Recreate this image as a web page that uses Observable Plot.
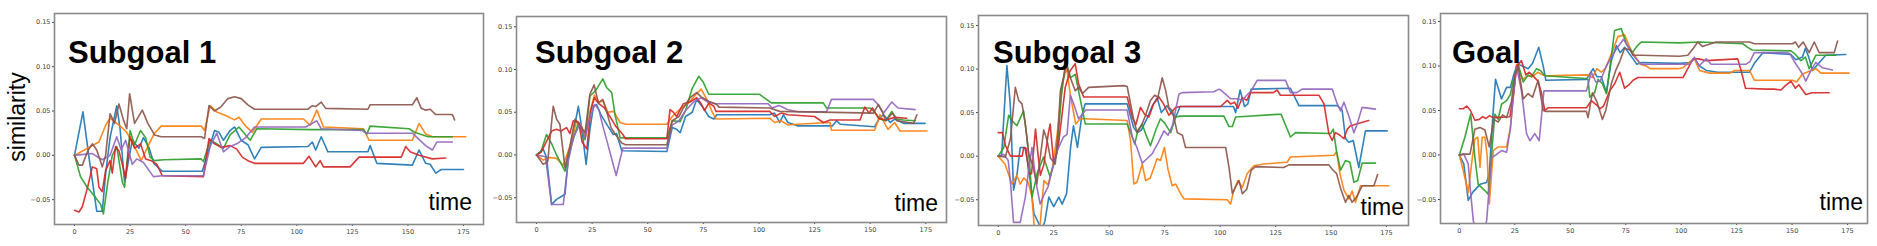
<!DOCTYPE html>
<html><head><meta charset="utf-8">
<script src="https://cdn.jsdelivr.net/npm/d3@7"></script>
<script src="https://cdn.jsdelivr.net/npm/@observablehq/plot@0.6"></script>
<style>
body{margin:0;background:#fff;}
#wrap{position:relative;width:1877px;height:246px;overflow:hidden;background:#fff;}
#wrap svg.plotsvg{position:absolute;}
#overlay{position:absolute;left:0;top:0;pointer-events:none;}
</style></head><body><div id="wrap"></div>
<script>
// ---------- data ----------
const panelTitles = ["Subgoal 1", "Subgoal 2", "Subgoal 3", "Goal"];
const seriesNames = ["blue", "orange", "green", "red", "purple", "brown"];
const xTicks = [0, 25, 50, 75, 100, 125, 150, 175];
const yTicks = [-0.05, 0, 0.05, 0.10, 0.15];
const yLabel = "similarity";
const xLabel = "time";

const p1_blue = [[0,0],[3.8,0.049],[6.5,-0.002],[10,-0.063],[12.5,-0.063],[14,-0.021],[16,0.02],[19,0.056],[20.5,0.03],[22.5,-0.03],[26,0.017],[29,0.008],[31,0.02],[33.5,0.009],[35.7,-0.009],[39.5,-0.018],[57.5,-0.018],[63,0.028],[65,0.026],[67,0.017],[70,0.028],[72,0.032],[75,0.017],[78,0.012],[81,-0.004],[84,0.009],[105,0.010],[107,0.015],[108.5,0.006],[111,0.021],[114,0.004],[132,0.004],[133,0.011],[136,-0.009],[152,-0.011],[155,0.006],[158,-0.009],[160,-0.01],[162.5,-0.02],[165,-0.016],[175,-0.016]];
const p1_orange = [[0,0],[3,0.004],[6.5,0.009],[9.5,0.013],[11,0.015],[14,0.034],[16,0.042],[19,0.036],[21,0.032],[23.5,0.026],[27,0.01],[30,-0.006],[33,0.01],[36,0.025],[39,0.033],[57,0.033],[58.5,0.028],[61,0.056],[64,0.049],[68,0.045],[72,0.04],[74,0.043],[77,0.033],[80,0.026],[84,0.041],[103,0.041],[106,0.034],[109,0.051],[112,0.032],[130,0.030],[132.5,0.017],[152,0.017],[155,0.036],[158,0.024],[161,0.021],[176,0.021]];
const p1_green = [[0,0],[2.7,-0.024],[5.7,-0.036],[8.7,-0.045],[11.7,-0.055],[13,-0.066],[15,-0.03],[17,0.0],[19,0.01],[21.5,-0.03],[22.5,-0.036],[25,0.028],[27,0.012],[29.7,0.028],[32,0.02],[34,-0.002],[36,-0.006],[40,-0.005],[57,-0.004],[58,-0.007],[61,0.017],[64,0.013],[67,0.008],[70,0.023],[74,0.032],[77,0.023],[79,0.017],[82,0.030],[107,0.029],[130,0.029],[131.5,0.024],[133,0.033],[150.5,0.030],[153,0.026],[159,0.021],[170,0.021]];
const p1_red = [[0,-0.062],[2,-0.064],[3.5,-0.058],[6,-0.035],[8,-0.013],[10,-0.015],[11,-0.036],[12.5,-0.041],[14,-0.017],[16,-0.006],[17,-0.02],[18.5,0.01],[20,0.005],[21.5,-0.01],[23,-0.026],[25,0.021],[27,0.008],[29.7,0.013],[32,-0.004],[34.5,-0.006],[37,-0.01],[39.5,-0.023],[58,-0.024],[60.5,0.019],[63,0.013],[66,0.009],[70,0.011],[73,0.007],[75.5,-0.002],[78,-0.006],[81,-0.009],[103,-0.009],[105.5,-0.001],[108.5,-0.013],[110.5,-0.006],[112,-0.013],[124,-0.013],[128,-0.002],[147,-0.002],[149,0.010],[151,0.004],[155,0.0],[161,-0.004],[167,-0.003]];
const p1_purple = [[0,0],[8,0.002],[12.5,-0.005],[16,0.0],[19,0.021],[21,0.006],[23,0.017],[26,-0.010],[28,-0.004],[31,-0.008],[35.5,-0.024],[39.5,-0.023],[58,-0.023],[61,0.010],[64,0.025],[67,0.004],[70,0.01],[73,0.013],[77,0.02],[81,0.032],[104,0.032],[109,0.039],[111,0.030],[129.5,0.028],[131,0.025],[152,0.025],[155,0.018],[158,0.011],[161,0.006],[163,0.015],[170,0.015]];
const p1_brown = [[0,0],[2,-0.011],[3.5,-0.011],[6,0.005],[8,0.013],[10,0.006],[12.5,-0.013],[14,0.0],[16,0.047],[18,0.036],[20,0.058],[22,0.04],[23.5,0.03],[24.8,0.0695],[27,0.036],[30.5,0.051],[33,0.036],[36,0.023],[39,0.021],[57,0.021],[58.5,0.019],[60.5,0.056],[63,0.05],[66,0.055],[69,0.064],[72,0.066],[75,0.064],[78,0.057],[81,0.052],[105,0.052],[107,0.056],[108.5,0.055],[111,0.060],[113,0.053],[132,0.052],[133,0.057],[152,0.057],[154,0.065],[156,0.053],[158,0.051],[160,0.052],[162.5,0.046],[170,0.046],[171,0.040]];

const p2_blue = [[0,0],[3,0.007],[4.5,-0.003],[6.8,-0.058],[9,-0.052],[12.8,-0.046],[14.3,-0.003],[16.5,0.025],[18.8,0.057],[20.3,0.032],[22.3,-0.011],[24,0.03],[25.6,0.057],[27,0.059],[29,0.047],[32,0.034],[34.5,0.024],[36,0.025],[38.3,0.005],[58.6,0.004],[61,0.032],[63,0.03],[64.6,0.026],[67,0.045],[70,0.05],[72,0.065],[75,0.055],[77.4,0.045],[79.7,0.042],[81,0.047],[104.8,0.047],[107,0.049],[109.3,0.038],[111,0.047],[113,0.038],[117.6,0.034],[133,0.034],[134.9,0.040],[136.5,0.036],[152,0.033],[154.4,0.044],[156,0.047],[159,0.038],[161,0.042],[165,0.037],[174.7,0.037]];
const p2_orange = [[0,0],[3,-0.006],[6,-0.003],[9,-0.004],[12,-0.012],[15,0.01],[18,0.04],[20,0.035],[22,0.02],[24,0.05],[26,0.07],[28,0.062],[30,0.063],[32,0.05],[34.6,0.051],[37.6,0.038],[40,0.036],[58.6,0.036],[61,0.045],[65,0.055],[68,0.06],[71.7,0.071],[74,0.077],[77,0.063],[79,0.05],[80.7,0.042],[104.8,0.043],[107,0.038],[110,0.040],[113,0.035],[117,0.036],[131.9,0.038],[132.6,0.029],[152,0.029],[154.4,0.047],[156.5,0.037],[158,0.030],[161,0.038],[163.4,0.028],[175.5,0.028]];
const p2_green = [[0,0],[2,0.004],[4.5,0.024],[7,0.012],[9,0.0],[12.8,-0.019],[15.8,0.012],[18.8,0.038],[21.8,0.018],[24,0.069],[26.5,0.075],[29.8,0.089],[31.5,0.079],[33.8,0.073],[35.3,0.047],[37.6,0.020],[58.6,0.020],[61,0.04],[64.6,0.039],[67,0.052],[70,0.078],[72.9,0.092],[75,0.085],[77.4,0.071],[81.2,0.071],[100.3,0.071],[105.5,0.061],[128.9,0.061],[130.4,0.055],[150,0.055],[152,0.050],[154.4,0.042],[157,0.040],[159.7,0.051],[162,0.042],[165,0.041],[170.2,0.040]];
const p2_red = [[0,0],[2,0.003],[4.5,0.016],[6.8,0.028],[9,0.030],[11,0.028],[13.5,0.032],[15,0.025],[16.5,0.040],[19,0.038],[20.5,0.015],[22.6,0.007],[24.4,0.052],[26,0.067],[28,0.06],[30.5,0.055],[33,0.045],[35.5,0.034],[38.8,0.024],[40,0.019],[58.6,0.019],[60,0.053],[61.5,0.05],[63,0.045],[66,0.06],[69,0.062],[72,0.067],[74,0.06],[75.5,0.052],[77.5,0.061],[79.7,0.057],[80.7,0.051],[104.8,0.051],[107,0.045],[110,0.049],[113,0.047],[125,0.045],[128.9,0.038],[132,0.041],[145.4,0.041],[147.6,0.056],[149.5,0.049],[151,0.055],[153.7,0.043],[157,0.041],[161,0.044],[166.4,0.043]];
const p2_purple = [[0,0],[4,-0.002],[6.8,-0.058],[12,-0.058],[14.3,-0.007],[16.5,0.02],[19.5,0.036],[21.8,0.02],[24,0.045],[26.3,0.059],[28,0.053],[30,0.032],[32,0.013],[35.8,-0.024],[38.8,0.008],[58.6,0.008],[61,0.035],[64,0.04],[67,0.052],[71,0.063],[74,0.067],[77,0.062],[80.7,0.060],[104,0.060],[106,0.055],[109,0.058],[113,0.053],[117.6,0.0505],[130.4,0.0505],[132.6,0.065],[151.4,0.065],[153.5,0.059],[156,0.049],[159.7,0.062],[162.5,0.055],[170.2,0.053]];
const p2_brown = [[0,0],[3,-0.011],[5,-0.008],[7.5,0.057],[9,0.042],[10.5,0.036],[12.8,-0.015],[15,0.01],[17.3,0.042],[19.5,0.035],[21.8,0.026],[24,0.071],[25.9,0.082],[27.8,0.061],[29.8,0.065],[31.5,0.051],[33.5,0.032],[35.5,0.024],[38.3,0.014],[40,0.012],[58.6,0.012],[61,0.04],[64,0.045],[66,0.055],[69,0.067],[72,0.073],[74,0.068],[77.4,0.063],[81,0.059],[82,0.056],[104.8,0.055],[109.3,0.051],[151.4,0.049],[153.7,0.059],[155.5,0.050],[157,0.040],[160,0.049],[162,0.040],[169.5,0.037],[171,0.047]];

const p3_blue = [[0,0],[1.5,0.0],[3.9,0.104],[5.4,0.06],[6.9,-0.039],[8.5,-0.02],[9.9,0.010],[12,0.010],[13.7,-0.013],[16.1,-0.066],[18.2,-0.077],[19.5,-0.085],[21,-0.075],[22.8,-0.047],[25,-0.058],[27.3,-0.047],[28.8,-0.055],[30.8,-0.043],[32.6,0.010],[33.9,0.035],[35.7,0.010],[37.7,0.047],[39.2,0.060],[58.1,0.060],[61,0.033],[62.6,0.027],[64.5,0.030],[67,0.043],[69.5,0.058],[71.6,0.067],[73.5,0.05],[76,0.058],[78.5,0.048],[80,0.045],[82,0.057],[106,0.057],[107,0.050],[109,0.076],[111,0.057],[112.5,0.060],[114,0.077],[131.7,0.078],[135.5,0.058],[152.8,0.058],[155,0.053],[156.5,0.020],[158,0.016],[160,0.018],[162.5,-0.013],[165.5,0.029],[175.3,0.029]];
const p3_orange = [[0,0],[3,-0.009],[6.2,-0.032],[8.4,-0.022],[9.9,-0.032],[11.5,-0.025],[13.5,-0.03],[15.2,-0.047],[16.5,-0.09],[18.5,-0.09],[19.5,-0.06],[20.6,-0.028],[22.5,-0.033],[24.5,-0.012],[26.6,0.026],[28.8,0.083],[30.8,0.102],[32.5,0.07],[34.9,0.037],[37,0.043],[39,0.043],[58.1,0.041],[59.6,0.018],[61.1,-0.032],[62.5,-0.03],[64.9,-0.009],[66.4,-0.028],[68.5,-0.025],[71.6,-0.003],[73.1,-0.005],[74.9,0.010],[76.5,-0.015],[78.4,-0.034],[80,-0.032],[82.2,-0.043],[83.7,-0.049],[103.2,-0.050],[104.7,-0.055],[106,-0.041],[108,-0.028],[110,-0.036],[112.2,-0.020],[115.2,-0.011],[119.7,-0.009],[130.2,-0.007],[131.7,-0.001],[151.3,0.001],[152.5,0.005],[154,-0.020],[155.8,-0.039],[158,-0.049],[159.5,-0.040],[161,-0.053],[163.3,-0.034],[176,-0.034]];
const p3_green = [[0,0],[2.5,0.01],[4.7,0.047],[6.5,0.04],[8.4,0.035],[11.4,0.052],[12.9,0.022],[14,-0.005],[15.2,-0.047],[17.5,-0.02],[20.4,-0.001],[23.4,-0.024],[26.4,0.003],[28.5,0.07],[30.5,0.11],[32.5,0.09],[34.7,0.094],[37.7,0.056],[39.2,0.037],[58.1,0.037],[60,0.025],[61.5,0.014],[63,0.03],[64.9,0.037],[66.5,0.025],[68.6,0.012],[71,0.03],[73.1,0.043],[75,0.038],[77.7,0.027],[80,0.045],[82.2,0.046],[101.7,0.046],[104,0.034],[105.5,0.034],[107,0.045],[125.7,0.048],[127.5,0.048],[131.7,0.022],[134,0.027],[149.8,0.026],[151,0.031],[152.5,0.005],[154.3,-0.016],[156.5,-0.005],[158.5,-0.007],[160.3,-0.030],[162,-0.028],[164,-0.008],[170,-0.008]];
const p3_red = [[0,0.027],[1.8,0.027],[3.3,0.012],[5.5,0.0],[10.8,0.0],[11.5,0.01],[12.5,0.009],[13.8,-0.02],[15,-0.02],[16.8,0.031],[18,0.0],[19,-0.022],[20.5,-0.01],[22.5,0.025],[23.4,0.037],[25,-0.009],[27,0.01],[30.2,0.079],[32.4,0.098],[34.7,0.106],[36.2,0.083],[38.5,0.068],[58.1,0.068],[60.4,0.045],[62,0.036],[64.1,0.056],[66,0.048],[67.9,0.045],[70,0.06],[72.4,0.068],[74.5,0.06],[76.9,0.047],[80,0.056],[82.2,0.057],[100.2,0.057],[103.2,0.064],[104.7,0.060],[106.5,0.062],[108,0.055],[110,0.067],[112,0.064],[113.7,0.073],[124,0.073],[125.7,0.076],[127.2,0.070],[144.5,0.070],[146.8,0.060],[149,0.026],[150.5,0.018],[152,0.027],[154,0.024],[155.8,0.020],[157.3,0.031],[158.8,0.035],[163,0.038],[167,0.041]];
const p3_purple = [[0,0],[2.5,0.002],[4.5,-0.005],[5.5,-0.03],[6.9,-0.076],[9.9,-0.076],[12.2,-0.047],[13.5,-0.02],[15.2,0.010],[17,-0.030],[18.9,-0.055],[20.5,-0.045],[22.5,-0.035],[24,-0.018],[26.5,0.006],[29.4,0.022],[31,0.025],[32.5,0.07],[34,0.06],[36.2,0.043],[39.4,0.053],[58.1,0.053],[60.4,0.022],[62.5,0.01],[64.9,-0.008],[67,-0.003],[69.4,0.003],[72,0.015],[74.7,0.029],[76.5,0.024],[78.5,0.035],[81.4,0.071],[83,0.073],[97.2,0.074],[99.5,0.077],[100.2,0.076],[104.7,0.066],[108,0.066],[110,0.064],[112,0.07],[114,0.075],[116.7,0.087],[129.5,0.087],[131.7,0.073],[134.5,0.073],[137,0.077],[150.5,0.077],[152.8,0.060],[154.3,0.052],[155.8,0.062],[158,0.046],[160.3,0.027],[161.5,0.035],[164,0.056],[170,0.054]];
const p3_brown = [[0,0],[3.2,-0.001],[5.5,0.02],[7.7,0.079],[9.2,0.064],[10.7,0.06],[12.2,0.037],[13.7,0.003],[15.5,-0.01],[17.4,-0.032],[19,0.0],[20.5,0.03],[22,0.018],[23.5,-0.002],[25.7,-0.009],[27,0.03],[28,0.075],[29.4,0.090],[30.5,0.106],[32.5,0.09],[34.7,0.075],[36.2,0.079],[38,0.072],[40.7,0.079],[56.6,0.081],[58.1,0.080],[61.1,0.041],[62.6,0.027],[64.5,0.035],[66.4,0.047],[68.6,0.064],[70.5,0.07],[72,0.068],[73.9,0.090],[75.5,0.075],[76.9,0.056],[78.5,0.052],[80.7,0.027],[83,0.024],[84.4,0.010],[102.5,0.010],[104,-0.013],[105.5,-0.043],[107,-0.035],[108.5,-0.028],[110,-0.043],[112,-0.038],[114,-0.016],[116,-0.012],[128.7,-0.013],[131,-0.010],[149,-0.010],[150.5,-0.015],[152.5,-0.020],[154.3,-0.037],[156.5,-0.053],[158,-0.045],[159.5,-0.053],[161.5,-0.047],[164,-0.034],[169.3,-0.034],[171,-0.021]];

const p4_blue = [[0,0],[2,-0.01],[4,-0.051],[6,-0.042],[9.3,-0.033],[12.3,-0.031],[13.5,-0.02],[15,0.04],[16.3,0.085],[19,0.063],[21.3,0.076],[23,0.076],[24.5,0.09],[26.1,0.102],[28.5,0.1],[31,0.097],[33,0.103],[35.8,0.121],[37.8,0.100],[39,0.084],[57.3,0.085],[58.5,0.09],[60.3,0.097],[62,0.088],[64,0.088],[66.3,0.070],[68.5,0.106],[70.8,0.123],[72.5,0.115],[74.5,0.121],[78.3,0.108],[80,0.102],[82,0.104],[99.3,0.103],[103.7,0.104],[106,0.108],[108.3,0.100],[111.3,0.095],[116.5,0.093],[130.8,0.093],[133,0.103],[136.8,0.115],[149.5,0.113],[151.7,0.107],[154.7,0.110],[156,0.120],[157.5,0.110],[159.2,0.095],[162,0.103],[165.2,0.112],[174.2,0.113]];
const p4_orange = [[0,0],[1.8,-0.018],[4,-0.042],[5.5,-0.01],[7,0.018],[8.3,0.02],[9.3,-0.014],[10.3,0.02],[11.5,0.02],[12.5,0.0],[13.5,-0.055],[15.3,0.005],[17.5,0.009],[21.3,0.009],[23,0.03],[24.5,0.07],[25.8,0.102],[28.5,0.085],[31,0.089],[33,0.088],[35.5,0.093],[37.5,0.09],[39,0.089],[58,0.090],[60,0.087],[62,0.097],[64,0.093],[66,0.098],[69.5,0.12],[71.5,0.133],[74.5,0.135],[77,0.12],[79,0.112],[81.5,0.102],[84.3,0.100],[86,0.097],[98.5,0.097],[100.8,0.098],[103,0.103],[106,0.108],[108.3,0.095],[112.8,0.092],[122,0.092],[124,0.095],[130.8,0.095],[133,0.084],[150.2,0.084],[152,0.082],[154.7,0.091],[160.7,0.097],[163,0.092],[175.7,0.092]];
const p4_green = [[0,0],[2.5,0.02],[5.1,0.046],[7,-0.003],[8.5,-0.033],[11.5,-0.040],[13,-0.044],[14.5,0.0],[16,0.046],[17.5,0.04],[19,0.057],[21.3,0.061],[23,0.068],[24.3,0.083],[26.5,0.102],[28.8,0.082],[31,0.09],[32.5,0.088],[34.8,0.097],[36.5,0.095],[38.5,0.089],[57,0.086],[58,0.085],[58.8,0.065],[61,0.07],[62.5,0.085],[64.5,0.08],[66.3,0.069],[68.5,0.11],[70,0.140],[73,0.142],[75.3,0.125],[78,0.115],[80,0.122],[82,0.127],[99.3,0.126],[108.3,0.127],[127.8,0.125],[130,0.121],[132,0.118],[149.5,0.117],[151.5,0.113],[154,0.106],[156,0.11],[157.7,0.097],[160.7,0.112],[169.7,0.112]];
const p4_red = [[0,0.052],[1.8,0.052],[3.3,0.055],[5,0.05],[7,0.039],[9,0.04],[10.5,0.043],[12,0.041],[13.5,0.044],[15.3,0.042],[22.8,0.043],[24.5,0.07],[25.8,0.100],[28,0.106],[30,0.09],[31.5,0.093],[33.5,0.088],[35.5,0.083],[37,0.07],[38.5,0.050],[40,0.053],[57.3,0.053],[59.5,0.061],[61.5,0.057],[63.5,0.052],[65,0.055],[67.8,0.072],[70,0.08],[72.3,0.093],[74.5,0.075],[76.5,0.079],[78.3,0.084],[80.5,0.087],[100.8,0.087],[103,0.097],[105.3,0.108],[108,0.108],[111.3,0.106],[125.5,0.108],[127,0.095],[129,0.075],[138.2,0.074],[142,0.074],[145,0.073],[147,0.078],[149.5,0.083],[151.5,0.075],[153,0.079],[156.2,0.068],[159,0.07],[166.7,0.070]];
const p4_purple = [[0,0],[2,0.001],[4,-0.01],[5,-0.04],[6.3,-0.074],[8,-0.09],[10.5,-0.09],[12.3,-0.074],[14.5,-0.003],[16.5,0.0],[19,0.005],[21.3,0.003],[23,0.03],[24.5,0.07],[25.8,0.099],[28,0.072],[30.3,0.024],[31.8,0.016],[34,0.024],[36,0.016],[38.1,0.072],[57.3,0.072],[59.5,0.093],[61.5,0.082],[63.5,0.083],[66.3,0.1],[68.5,0.11],[70.5,0.118],[72.5,0.125],[74,0.130],[76.5,0.12],[79,0.11],[82,0.102],[103.8,0.102],[106,0.110],[108,0.100],[111.3,0.108],[113.5,0.102],[129.3,0.102],[131,0.105],[133,0.115],[147.2,0.115],[149,0.114],[151,0.105],[154.7,0.091],[156.2,0.083],[158.5,0.095],[160.7,0.104],[163.7,0.098],[168.2,0.0955]];
const p4_brown = [[0,0],[2,0.001],[4.8,0.001],[7,0.029],[9.3,0.031],[11.5,0.028],[13.5,0.009],[15.5,0.04],[17.5,0.037],[19.5,0.045],[21.3,0.042],[23.5,0.06],[25,0.09],[26.5,0.100],[28.8,0.063],[31,0.069],[33,0.065],[35.5,0.084],[37.8,0.050],[39,0.049],[57.3,0.049],[58,0.042],[60,0.07],[62,0.06],[64.5,0.040],[66,0.05],[68.5,0.080],[70.5,0.095],[72.3,0.105],[74.5,0.12],[77,0.118],[78.3,0.112],[82,0.112],[99.3,0.111],[103,0.112],[105.5,0.12],[107.5,0.127],[109.5,0.122],[112,0.124],[115.8,0.127],[130.8,0.127],[133,0.125],[150.2,0.125],[151.5,0.127],[153,0.121],[155,0.127],[157.7,0.115],[160,0.127],[162.2,0.115],[169,0.115],[170.5,0.128]];

// ---------- rendering ----------
const panelSeries = [
  [p1_blue, p1_orange, p1_green, p1_red, p1_purple, p1_brown],
  [p2_blue, p2_orange, p2_green, p2_red, p2_purple, p2_brown],
  [p3_blue, p3_orange, p3_green, p3_red, p3_purple, p3_brown],
  [p4_blue, p4_orange, p4_green, p4_red, p4_purple, p4_brown]
];
const colors = ["#1f77b4", "#ff7f0e", "#2ca02c", "#d62728", "#9467bd", "#8c564b"];
const layouts = [
  {L:54,  T:13, R:483,  B:224, xd:[-9,184],     yd:[-0.078,0.160],  title:[68,63],   time:[472,210]},
  {L:516, T:16, R:946,  B:222, xd:[-9,184.3],   yd:[-0.079,0.162],  title:[535,63],  time:[938,211]},
  {L:978, T:15, R:1408, B:225, xd:[-8.9,184.9], yd:[-0.0796,0.1615],title:[993,63],  time:[1404,215]},
  {L:1440,T:13, R:1867, B:223, xd:[-8.5,184],   yd:[-0.077,0.159],  title:[1452,63], time:[1863,210]}
];
const mL = 40, mR = 4, mT = 4, mB = 22;
const wrap = document.getElementById("wrap");
const fmt = d => (d < 0 ? "\u2212" : "") + Math.abs(d).toFixed(2);

layouts.forEach((lay, i) => {
  const rows = [];
  panelSeries[i].forEach((arr, k) => arr.forEach(([t, v]) => rows.push({t, v, series: seriesNames[k]})));
  const marks = seriesNames.map((name, k) =>
    Plot.line(rows.filter(r => r.series === name), {x: "t", y: "v", stroke: colors[k], strokeWidth: 1.6, strokeOpacity: 0.92, clip: true})
  );
  marks.push(Plot.frame({stroke: "#8a8a8a", strokeWidth: 1.6}));
  const chart = Plot.plot({
    width: lay.R - lay.L + mL + mR,
    height: lay.B - lay.T + mT + mB,
    marginLeft: mL, marginRight: mR, marginTop: mT, marginBottom: mB,
    style: {fontSize: "6.5px", fontFamily: "DejaVu Sans", color: "#444", background: "transparent", overflow: "visible"},
    x: {domain: lay.xd, ticks: xTicks, tickSize: 2, tickPadding: 3, label: null, tickFormat: d => String(d)},
    y: {domain: lay.yd, ticks: yTicks, tickSize: 2, tickPadding: 2, label: null, tickFormat: fmt},
    marks
  });
  chart.classList.add("plotsvg");
  chart.style.left = (lay.L - mL) + "px";
  chart.style.top = (lay.T - mT) + "px";
  wrap.appendChild(chart);
});

// text overlay
const ns = "http://www.w3.org/2000/svg";
const ov = document.createElementNS(ns, "svg");
ov.setAttribute("id", "overlay");
ov.setAttribute("width", 1877);
ov.setAttribute("height", 246);
function addText(str, x, y, opts) {
  const t = document.createElementNS(ns, "text");
  t.textContent = str;
  t.setAttribute("x", x); t.setAttribute("y", y);
  t.setAttribute("font-family", "Liberation Sans, Arial, sans-serif");
  for (const k in opts) t.setAttribute(k, opts[k]);
  ov.appendChild(t);
  return t;
}
layouts.forEach((lay, i) => {
  addText(panelTitles[i], lay.title[0], lay.title[1], {"font-size": 31, "font-weight": "bold", fill: "#000"});
  addText(xLabel, lay.time[0], lay.time[1], {"font-size": 23, "text-anchor": "end", fill: "#000"});
});
addText(yLabel, 0, 0, {"font-size": 23, "text-anchor": "middle", fill: "#000", transform: "translate(25,117) rotate(-90)"});
wrap.appendChild(ov);
</script></body></html>
